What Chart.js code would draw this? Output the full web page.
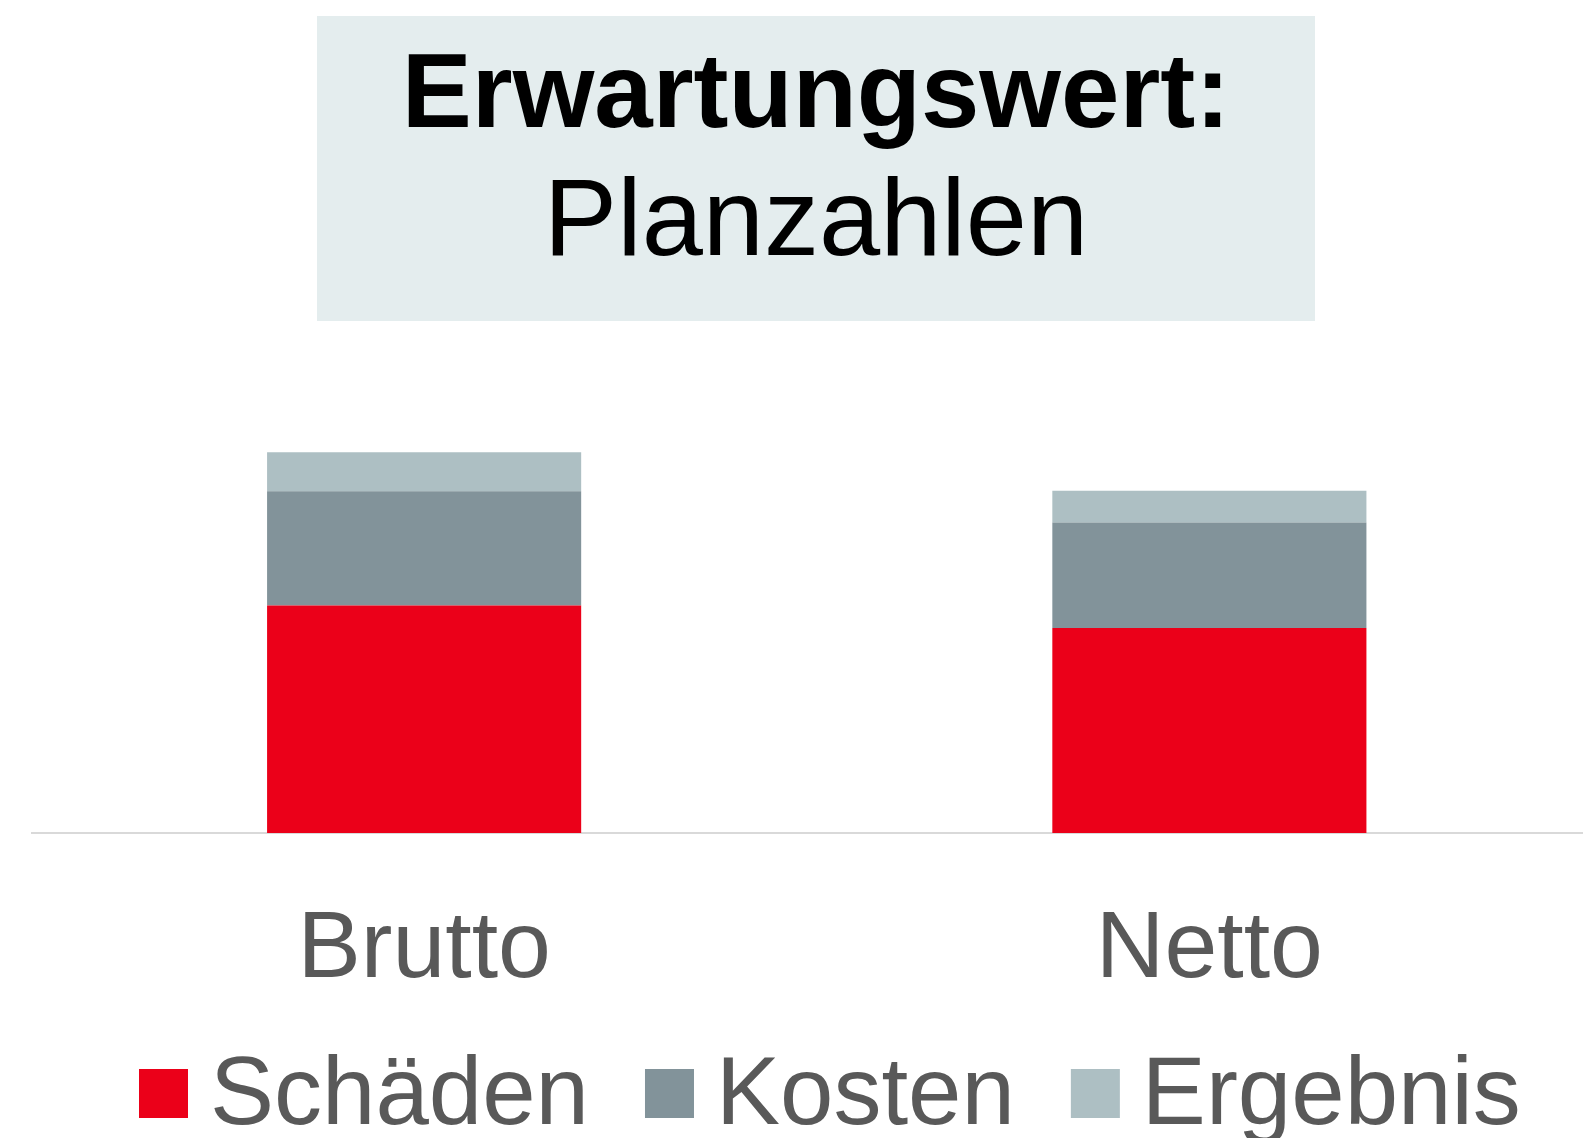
<!DOCTYPE html>
<html lang="de">
<head>
<meta charset="utf-8">
<title>Erwartungswert: Planzahlen</title>
<script src="https://cdn.jsdelivr.net/npm/chart.js@4.4.1/dist/chart.umd.min.js"></script>
<style>
    html, body { margin: 0; padding: 0; background: #ffffff; overflow: hidden; }
    #chartWrap { position: absolute; left: 0; top: 0; width: 1602px; height: 1138px; }
</style>
</head>
<body>
<div id="chartWrap"><canvas id="myChart" width="1602" height="1138"></canvas></div>
<script>
// data (share of the chart height, 0-100)
const categories = ["Brutto", "Netto"]
const schaeden = [45.4, 40.9]
const kosten = [22.8, 21.1]
const ergebnis = [7.8, 6.3]

const seriesNames = ["Schäden", "Kosten", "Ergebnis"]
const seriesColors = ["#EB0019", "#82939A", "#ADBFC3"]

const titleLines = ["Erwartungswert:", "Planzahlen"]

const fontFamily = "'Liberation Sans', Arial, Helvetica, sans-serif"
const textGrey = "#595959"

// title box above the plot
const titleBox = {
    id: "titleBox",
    beforeDraw(chart) {
        const ctx = chart.ctx
        ctx.save()
        ctx.fillStyle = "#E4EDEE"
        ctx.fillRect(317, 16, 998, 305)
        ctx.fillStyle = "#000000"
        ctx.textAlign = "center"
        ctx.textBaseline = "alphabetic"
        ctx.font = "bold 105px " + fontFamily
        ctx.fillText(titleLines[0], 816, 127)
        ctx.font = "110px " + fontFamily
        ctx.fillText(titleLines[1], 816, 255)
        ctx.restore()
    }
}

// legend along the bottom edge
const bottomLegend = {
    id: "bottomLegend",
    afterDraw(chart) {
        const ctx = chart.ctx
        ctx.save()
        ctx.font = "96px " + fontFamily
        ctx.textBaseline = "alphabetic"
        ctx.textAlign = "left"
        let x = 139
        chart.data.datasets.forEach(ds => {
            ctx.fillStyle = ds.backgroundColor
            ctx.fillRect(x, 1069, 49, 49)
            ctx.fillStyle = textGrey
            const tx = x + 49 + 22
            ctx.fillText(ds.label, tx, 1124)
            x = tx + ctx.measureText(ds.label).width + 56
        })
        ctx.restore()
    }
}

const data = {
    labels: categories,
    datasets: [schaeden, kosten, ergebnis].map((values, i) => ({
        label: seriesNames[i],
        data: values,
        backgroundColor: seriesColors[i],
        borderWidth: 0,
        barPercentage: 1,
        categoryPercentage: 0.4
    }))
}

const config = {
    type: "bar",
    data: data,
    options: {
        responsive: false,
        animation: false,
        devicePixelRatio: 1,
        layout: {
            padding: { left: 31.5, right: 0, top: 332, bottom: 69 }
        },
        plugins: {
            legend: { display: false },
            tooltip: { enabled: false },
            title: { display: false }
        },
        scales: {
            x: {
                stacked: true,
                grid: { display: false, drawTicks: false },
                border: { display: true, color: "#D9D9D9", width: 2 },
                ticks: {
                    color: textGrey,
                    padding: 61,
                    font: { family: fontFamily, size: 95 }
                }
            },
            y: {
                stacked: true,
                display: false,
                min: 0,
                max: 100
            }
        }
    },
    plugins: [titleBox, bottomLegend]
}

new Chart(document.querySelector("#myChart"), config)
</script>
</body>
</html>
